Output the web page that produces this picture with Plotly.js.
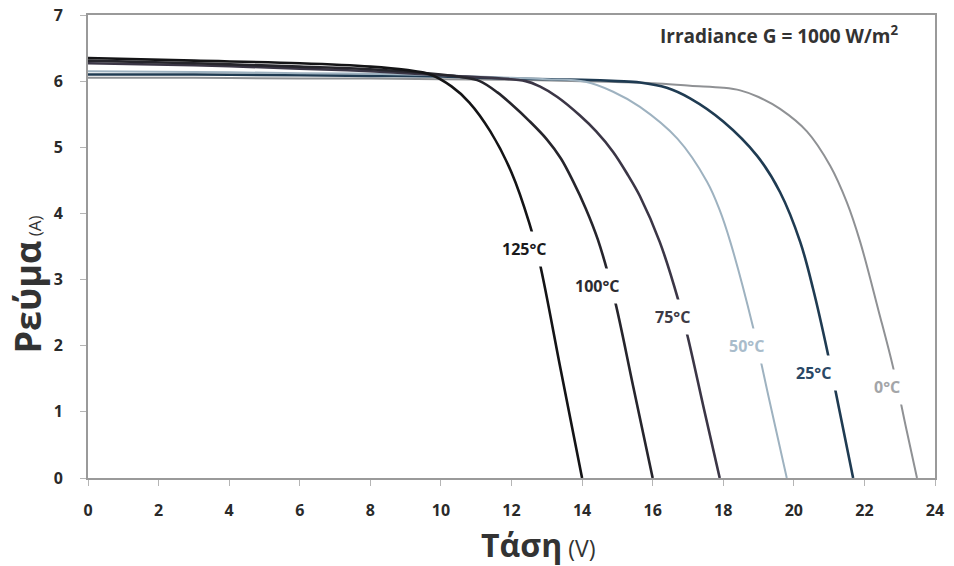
<!DOCTYPE html>
<html>
<head>
<meta charset="utf-8">
<script src="https://cdn.plot.ly/plotly-3.0.1.min.js"></script>
<style>
  html, body { margin: 0; padding: 0; background: #ffffff; }
  #chart { width: 954px; height: 566px; }
</style>
</head>
<body>
<div id="chart"></div>
<script>
// I-V curves of a PV module at G = 1000 W/m², one per cell temperature
const v125 = [0, 3, 6, 8, 9, 9.7, 10.3, 10.8, 11.4, 12.0, 12.5, 12.8, 13.4, 14.0];
const i125 = [6.35, 6.31, 6.27, 6.22, 6.17, 6.10, 5.92, 5.68, 5.24, 4.62, 3.86, 3.25, 1.62, 0];

const v100 = [0, 3, 6, 8, 10, 10.6, 11.1, 11.6, 12.0, 12.5, 13.0, 13.4, 13.75, 14.1, 14.45, 14.9, 15.45, 16.0];
const i100 = [6.31, 6.27, 6.22, 6.18, 6.10, 6.06, 6.00, 5.83, 5.65, 5.40, 5.12, 4.83, 4.48, 4.08, 3.60, 2.75, 1.38, 0];

const v75 = [0, 3, 6, 8, 10, 12.4, 12.8, 13.3, 13.94, 14.4, 14.88, 15.3, 15.64, 16.2, 16.72, 17.0, 17.45, 17.9];
const i75 = [6.27, 6.24, 6.19, 6.15, 6.09, 6.00, 5.92, 5.76, 5.48, 5.24, 4.93, 4.58, 4.26, 3.57, 2.70, 2.12, 1.05, 0];

const v50 = [0, 3, 6, 8, 10, 12, 13, 14.1, 14.88, 15.64, 16.7, 17.54, 17.9, 18.2, 18.84, 19.3, 19.8];
const i50 = [6.15, 6.14, 6.12, 6.11, 6.09, 6.05, 6.03, 5.99, 5.84, 5.61, 5.13, 4.48, 4.05, 3.57, 2.29, 1.19, 0];

const v25 = [0, 3, 6, 8, 10, 12, 14, 15, 15.64, 16.4, 17.06, 18.0, 18.96, 19.61, 20.18, 20.55, 20.94, 21.3, 21.68];
const i25 = [6.10, 6.10, 6.09, 6.08, 6.07, 6.04, 6.02, 6.00, 5.98, 5.90, 5.74, 5.39, 4.87, 4.32, 3.57, 2.85, 1.94, 1.00, 0];

const v0 = [0, 3, 6, 8, 10, 12, 14, 16, 17.06, 18.0, 18.48, 19.0, 19.61, 20.37, 21.03, 21.5, 21.88, 22.4, 22.81, 23.2, 23.49];
const i0 = [6.05, 6.05, 6.04, 6.04, 6.03, 6.02, 6.00, 5.97, 5.93, 5.90, 5.86, 5.76, 5.58, 5.24, 4.72, 4.17, 3.57, 2.53, 1.68, 0.71, 0];

const tempLabels = ['0°C', '25°C', '50°C', '75°C', '100°C', '125°C'];
// curve label anchor points (V, I)
const labelV = [22.64, 20.55, 18.67, 16.55, 14.45, 12.38];
const labelI = [1.37, 1.59, 1.99, 2.43, 2.90, 3.46];

const xTicks = [0, 2, 4, 6, 8, 10, 12, 14, 16, 18, 20, 22, 24];
const yTicks = [0, 1, 2, 3, 4, 5, 6, 7];

const curveV = [v0, v25, v50, v75, v100, v125];
const curveI = [i0, i25, i50, i75, i100, i125];
const lineColors = ['#8f9194', '#1f3b52', '#9eb2c0', '#3b3646', '#26252c', '#141416'];
const lineWidths = [2, 2.6, 2, 2.6, 2.6, 2.6];
const textColors = ['#a3a5a8', '#2a4865', '#a9bccb', '#3d3a45', '#2c2b30', '#1a1a1c'];

const FONT = '"Open Sans", "DejaVu Sans", sans-serif';

const traces = curveV.map((vs, k) => ({
  x: vs,
  y: curveI[k],
  type: 'scatter',
  mode: 'lines',
  name: tempLabels[k],
  line: { color: lineColors[k], width: lineWidths[k], shape: 'spline', smoothing: 1 },
  hoverinfo: 'x+y+name'
}));

const annotations = tempLabels.map((t, k) => ({
  x: labelV[k], y: labelI[k], xref: 'x', yref: 'y',
  xanchor: 'center', yanchor: 'middle',
  text: '<b>' + t + '</b>',
  showarrow: false,
  font: { family: FONT, size: 16, color: textColors[k] },
  bgcolor: '#ffffff',
  borderpad: 6
}));

annotations.push({
  xref: 'paper', yref: 'paper', x: 0.817, y: 0.957,
  xanchor: 'center', yanchor: 'middle',
  text: '<b>Irradiance G = 1000 W/m<sup>2</sup></b>',
  showarrow: false,
  font: { family: FONT, size: 19, color: '#333333' }
});
annotations.push({
  xref: 'paper', yref: 'paper', x: -0.072, y: 0.418,
  xanchor: 'center', yanchor: 'middle',
  textangle: -90,
  text: '<b>Ρεύμα</b><span style="font-size:17px"> (A)</span>',
  showarrow: false,
  font: { family: FONT, size: 36, color: '#333333' }
});
annotations.push({
  xref: 'paper', yref: 'paper', x: 0.531, y: -0.143,
  xanchor: 'center', yanchor: 'middle',
  text: '<b>Τάση</b><span style="font-size:23px"> (V)</span>',
  showarrow: false,
  font: { family: FONT, size: 32, color: '#333333' }
});

const axisCommon = {
  showgrid: false,
  zeroline: false,
  showline: true,
  linecolor: '#9a9a9a',
  linewidth: 2,
  mirror: true,
  ticks: 'outside',
  ticklen: 6,
  tickcolor: '#b5b5b5',
  tickfont: { family: FONT, size: 16, color: '#2a2a2a', weight: 'bold' }
};

const layout = {
  width: 954,
  height: 566,
  margin: { l: 88, r: 19, t: 15, b: 88 },
  paper_bgcolor: '#ffffff',
  plot_bgcolor: '#ffffff',
  showlegend: false,
  xaxis: Object.assign({}, axisCommon, {
    range: [0, 24], tickvals: xTicks, ticklabelstandoff: 11
  }),
  yaxis: Object.assign({}, axisCommon, {
    range: [0, 7], tickvals: yTicks, ticklabelstandoff: 14
  }),
  annotations: annotations
};

Plotly.newPlot('chart', traces, layout, { displayModeBar: false, staticPlot: true });
</script>
</body>
</html>
